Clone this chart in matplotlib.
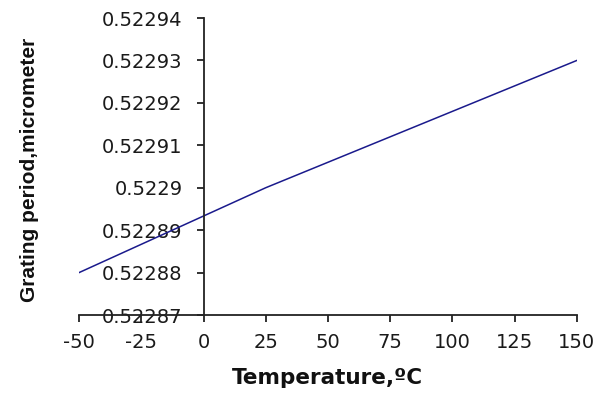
import matplotlib.pyplot as plt

plt.rcParams['axes.unicode_minus'] = False

# temperature (C) vs grating period (micrometer)
temperature = [-50, 25, 150]
period = [0.52288, 0.52290, 0.52293]

x_ticks = [-50, -25, 0, 25, 50, 75, 100, 125, 150]
y_ticks = [0.52287, 0.52288, 0.52289, 0.5229, 0.52291, 0.52292, 0.52293, 0.52294]
y_ticklabels = ['0.52287', '0.52288', '0.52289', '0.5229', '0.52291', '0.52292', '0.52293', '0.52294']

fig = plt.figure(figsize=(5.99, 3.96), dpi=100)
ax = fig.add_axes([0.132, 0.2045, 0.831, 0.75])

ax.plot(temperature, period, color='#1a1a8c', lw=1.1)

ax.set_xlim(-50, 150)
ax.set_ylim(0.52287, 0.52294)
ax.set_xticks(x_ticks)
ax.set_yticks(y_ticks)
ax.set_yticklabels(y_ticklabels)

# y axis crosses at zero temperature
ax.spines['left'].set_position(('data', 0))
ax.spines['right'].set_visible(False)
ax.spines['top'].set_visible(False)
for s in ['left', 'bottom']:
    ax.spines[s].set_linewidth(1.3)
    ax.spines[s].set_color('#222222')

ax.tick_params(axis='both', direction='out', length=5, width=1.3, color='#222222',
               labelsize=14, labelcolor='#1a1a1a')
ax.tick_params(axis='y', pad=10)
ax.tick_params(axis='x', pad=8)
for lab in ax.get_xticklabels() + ax.get_yticklabels():
    lab.set_family('DejaVu Sans')

fig.text(0.547, 0.045, 'Temperature,ºC', ha='center', va='center', fontsize=15.5,
         fontweight='bold', family='DejaVu Sans', color='#111111')
fig.text(0.05, 0.57, 'Grating period,micrometer', ha='center', va='center', rotation=90,
         fontsize=15, fontweight='bold', family='Liberation Sans', color='#111111')

fig.savefig('out.png', dpi=100)
